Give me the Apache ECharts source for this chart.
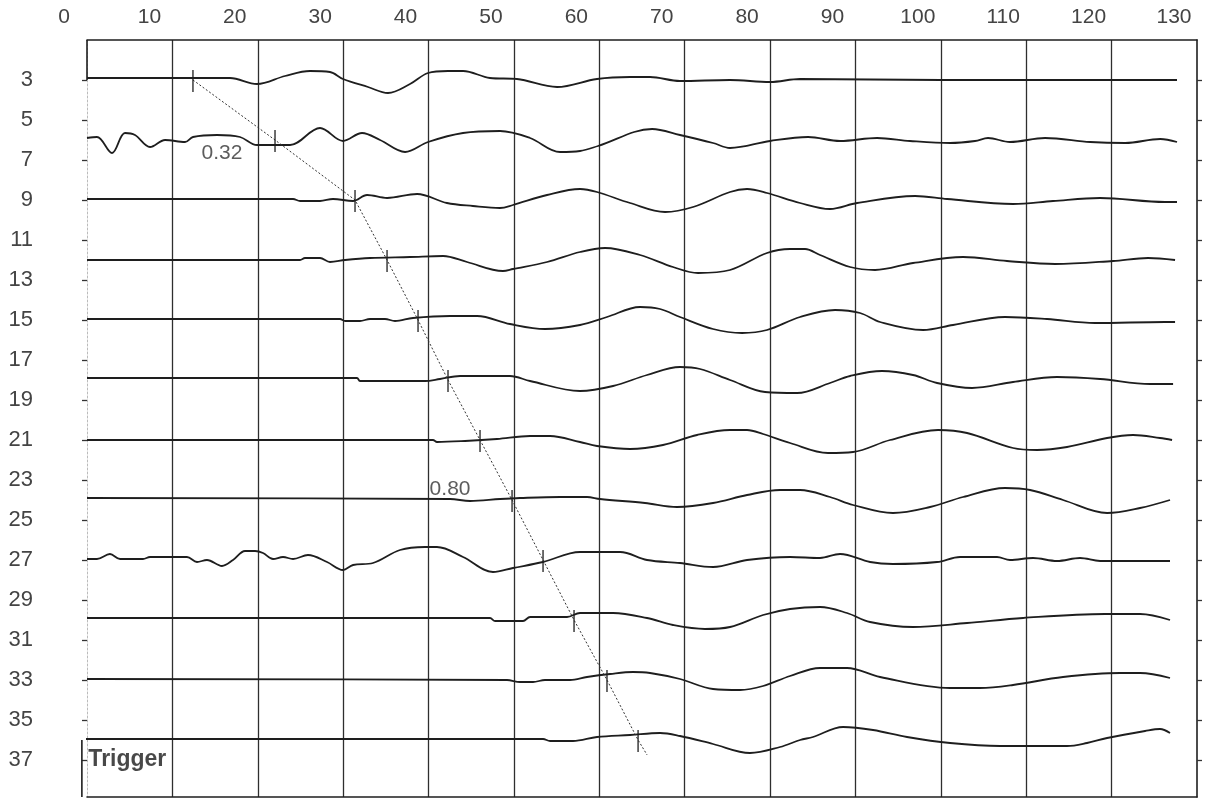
<!DOCTYPE html>
<html>
<head>
<meta charset="utf-8">
<script src="https://cdn.jsdelivr.net/npm/echarts@6/dist/echarts.min.js"></script>
<style>
  html, body { margin: 0; padding: 0; background: #fff; }
  #chart { width: 1211px; height: 800px; }
</style>
</head>
<body>
<div id="chart"></div>
<script>
// Axis ticks (time in ms along the top, trace offsets down the side)
const xTicks = [0, 10, 20, 30, 40, 50, 60, 70, 80, 90, 100, 110, 120, 130];
const yTicks = [3, 5, 7, 9, 11, 13, 15, 17, 19, 21, 23, 25, 27, 29, 31, 33, 35, 37];

// Baseline offset of each of the 12 traces
const baselines = [3, 6, 9, 12, 15, 18, 21, 24, 27, 30, 33, 36];

// Picked first-arrival time on each trace (ms)
const picks = [12.41, 22.02, 31.39, 35.14, 38.77, 42.28, 46.03, 49.78, 53.41, 57.04, 60.90, 64.54];
// Where the dotted pick line runs out below the last trace
const pickLineEnd = [65.6, 36.75];

// Slope annotations along the pick line
const slopeLabels = ['0.32', '0.80'];
const slopeLabelAt = [[15.81, 6.65], [42.52, 23.45]];

// Waveforms: [time ms, amplitude] (amplitude positive = upward)
const trace01 = [[0,0.1],[16.75,0.1],[19.91,-0.2],[23.19,0.2],[26.12,0.45],[28.46,0.4],[29.98,0.05],[32.91,-0.35],[35.25,-0.65],[37.83,-0.2],[39.94,0.35],[42.28,0.45],[44.04,0.45],[47.2,0.1],[50.36,0.05],[55.05,-0.35],[59.73,0.05],[63.6,0.15],[65.94,0.15],[69.45,-0.05],[75.3,0],[80.0,-0.1],[83.5,0.05],[100,0],[127.66,0]];
const trace02 = [[0,0.1],[1.17,0.15],[2.93,-0.65],[4.45,0.35],[5.62,0.25],[7.38,-0.35],[9.14,0],[11.48,-0.1],[12.41,0.15],[15.23,0.25],[17.92,0.15],[19.91,-0.25],[23.78,-0.25],[27.29,0.6],[29.98,-0.05],[32.21,0.35],[34.32,0],[37.25,-0.6],[39.94,-0.1],[44.04,0.35],[48.37,0.45],[51.89,0.1],[55.4,-0.6],[57.74,-0.55],[59.85,-0.3],[66.18,0.55],[69.45,0.25],[73.32,-0.15],[75.31,-0.4],[80.0,-0.05],[84.45,0.15],[88.2,-0.05],[92.53,0.1],[96.39,-0.05],[101.08,-0.15],[104.0,-0.05],[105.53,0.1],[108.1,-0.1],[112.2,0.1],[117.5,-0.1],[121.6,-0.15],[125.7,0.05],[127.66,-0.1]];
const trace03 = [[0,0.05],[24.13,0.05],[24.95,-0.05],[27.29,-0.05],[28.81,0.05],[31.15,-0.05],[32.8,0.25],[35.14,0.1],[38.65,0.3],[42.16,-0.15],[45.2,-0.3],[48.37,-0.4],[49.89,-0.25],[53.88,0.25],[57.74,0.55],[59.73,0.4],[63.6,-0.15],[67.7,-0.6],[70.98,-0.35],[75.31,0.4],[77.3,0.55],[79.64,0.35],[83.51,-0.15],[87.02,-0.45],[90.19,-0.15],[96.98,0.2],[100.73,0.05],[108.46,-0.2],[113.14,-0.05],[118.65,0.1],[126.26,-0.1],[127.66,-0.1]];
const trace04 = [[0,0],[24.95,0],[25.53,0.1],[27.29,0.1],[28.46,-0.1],[30.22,0],[33.15,0.1],[37.83,0.15],[41.7,0.2],[44.51,-0.1],[48.72,-0.55],[49.89,-0.45],[53.88,-0.1],[57.74,0.4],[60.67,0.6],[64.77,0.25],[68.63,-0.35],[71.56,-0.65],[75.31,-0.5],[79.64,0.35],[82.34,0.55],[84.1,0.55],[85.85,0.25],[89.37,-0.35],[92.29,-0.5],[96.74,-0.15],[102.6,0.15],[107.75,-0.05],[113.38,-0.2],[120.17,-0.05],[124.27,0.1],[127.43,0]];
const trace05 = [[0,0.05],[29.63,0.05],[30.22,-0.05],[31.97,-0.05],[33.15,0.05],[34.9,0.05],[36.07,-0.05],[38.18,0.1],[42.52,0.2],[45.68,0.2],[49.54,-0.2],[53.64,-0.45],[57.74,-0.25],[60.9,0.15],[64.77,0.65],[67.11,0.55],[69.45,0.15],[73.32,-0.45],[76.72,-0.65],[79.64,-0.5],[83.51,0.15],[87.61,0.5],[90.54,0.35],[92.88,-0.1],[97.92,-0.5],[101.43,-0.25],[107.52,0.15],[112.44,0.05],[118.06,-0.15],[126.26,-0.1],[127.43,-0.1]];
const trace06 = [[0,0.1],[31.62,0.1],[31.97,-0.05],[39.59,-0.05],[41.34,0.05],[43.69,0.2],[49.54,0.2],[51.89,-0.05],[57.74,-0.55],[61.61,-0.3],[65.59,0.25],[69.45,0.65],[71.8,0.55],[75.31,0],[79.41,-0.6],[83.16,-0.65],[87.02,-0.15],[89.37,0.2],[93.11,0.45],[96.74,0.25],[99.56,-0.15],[103.65,-0.4],[108.46,-0.1],[113.61,0.15],[118.65,0.05],[124.5,-0.2],[127.2,-0.2]];
const trace07 = [[0,0],[40.52,0],[40.99,-0.1],[44.27,-0.05],[48.02,0.05],[51.89,0.2],[54.23,0.2],[57.74,-0.1],[59.73,-0.3],[63.6,-0.45],[67.46,-0.25],[71.45,0.25],[75.31,0.5],[77.3,0.5],[79.18,0.3],[82.34,-0.15],[86.79,-0.65],[89.72,-0.6],[94.05,0],[99.67,0.5],[103.07,0.35],[108.46,-0.4],[111.27,-0.5],[114.78,-0.35],[119.47,0.1],[122.51,0.25],[125.67,0.1],[127.08,0]];
const trace08 = [[0,0.1],[42.52,0.05],[44.86,-0.05],[48.37,0.05],[50.71,0.1],[55.4,0.15],[58.56,0.15],[60.08,0.05],[65.35,-0.15],[69.1,-0.35],[73.32,-0.15],[77.3,0.25],[81.17,0.5],[83.51,0.5],[87.02,0.15],[89.72,-0.25],[94.4,-0.65],[98.74,-0.35],[102.6,0.15],[107.52,0.6],[110.45,0.5],[114.31,0],[119.47,-0.65],[123.33,-0.4],[126.84,0]];
const trace09 = [[0,0.05],[1.17,0.05],[2.69,0.3],[3.87,0.05],[6.56,0.05],[7.38,0.15],[11.71,0.15],[12.88,-0.1],[14.05,0],[15.81,-0.3],[17.1,0],[18.51,0.45],[19.68,0.45],[20.61,0.35],[21.79,0.05],[22.96,0.15],[24.13,0.05],[25.88,0.25],[28.11,-0.1],[29.98,-0.5],[31.16,-0.25],[33.5,-0.15],[36.66,0.5],[39.59,0.65],[40.99,0.65],[44.04,0.15],[47.55,-0.6],[49.89,-0.4],[53.41,-0.1],[57.74,0.4],[62.43,0.4],[65.59,0],[69.45,-0.15],[73.32,-0.35],[77.3,0],[82.34,0.15],[85.85,0.1],[88.19,0.3],[91.71,-0.1],[94.4,-0.2],[99.56,-0.1],[102.25,0.15],[106.58,0.15],[108.1,0],[110.8,0.1],[113.61,-0.05],[116.3,0.1],[118.65,-0.05],[126.84,-0.05]];
const trace10 = [[0,0.1],[47.2,0.1],[47.79,-0.05],[51.07,-0.05],[51.89,0.15],[56.22,0.15],[57.74,0.35],[61.61,0.35],[65.59,0.1],[68.63,-0.25],[72.38,-0.45],[75.31,-0.35],[79.18,0.25],[82.34,0.55],[85.85,0.65],[89.01,0.35],[91.71,-0.1],[96.74,-0.35],[103.07,-0.15],[109.63,0.1],[119.23,0.3],[123.33,0.3],[126.84,0]];
const trace11 = [[0,0.05],[49.19,0],[50.71,-0.1],[52.24,-0.1],[53.64,0],[56.57,0],[58.56,0.15],[61.26,0.3],[63.95,0.4],[65.94,0.35],[69.45,0.05],[73.32,-0.45],[76.48,-0.5],[79.18,-0.3],[82.34,0.2],[85.85,0.6],[89.01,0.6],[92.88,0.15],[101.08,-0.4],[104.59,-0.4],[108.46,-0.25],[114.31,0.15],[120.99,0.35],[123.33,0.35],[126.84,0.1]];
const trace12 = [[-0.6,0.05],[53.41,0.05],[54.23,-0.05],[56.92,-0.05],[59.73,0.15],[63.6,0.25],[67.11,0.35],[69.45,0.2],[73.32,-0.2],[77.65,-0.65],[81.17,-0.35],[83.51,0],[85.03,0.15],[88.55,0.65],[92.06,0.5],[96.04,0.15],[101.08,-0.15],[106.93,-0.3],[114.78,-0.3],[117.12,-0.15],[119.47,0.1],[123.92,0.45],[125.67,0.55],[126.84,0.35]];

const traces = [trace01, trace02, trace03, trace04, trace05, trace06,
                trace07, trace08, trace09, trace10, trace11, trace12];

const Y_MIN = 1, Y_MAX = 38.85;
const NUM_FONT = "'Liberation Sans', Arial, sans-serif";
const INK = '#1e1e1e';

const chart = echarts.init(document.getElementById('chart'), null, { renderer: 'canvas' });

const series = [];

// Seismic traces, each drawn about its own baseline (y axis is inverted)
traces.forEach((tr, i) => {
  series.push({
    type: 'line',
    name: 'trace' + (i + 1),
    data: tr.map(([t, a]) => [t, baselines[i] - a]),
    symbol: 'none',
    smooth: 0.35,
    clip: false,
    lineStyle: { color: INK, width: 1.8 },
    z: 5,
    silent: true
  });
});

// Left frame pieces: solid edge above the first trace, "Trigger" box edge below the last
const frameSegments = [
  [0, Y_MIN, 0, baselines[0]],
  [-0.6, baselines[11], -0.6, Y_MAX]
];
series.push({
  type: 'custom',
  data: frameSegments,
  clip: false,
  renderItem: (params, api) => {
    const p1 = api.coord([api.value(0), api.value(1)]);
    const p2 = api.coord([api.value(2), api.value(3)]);
    return {
      type: 'line',
      shape: { x1: p1[0], y1: p1[1], x2: p2[0], y2: p2[1] },
      style: { stroke: INK, lineWidth: 1.6 }
    };
  },
  z: 6,
  silent: true
});

// Dotted pick line through the arrival picks
series.push({
  type: 'line',
  data: picks.map((t, i) => [t, baselines[i]]).concat([pickLineEnd]),
  symbol: 'none',
  clip: false,
  lineStyle: { color: '#333', width: 1, type: [2, 2] },
  z: 6,
  silent: true
});

// Short vertical tick at every pick
series.push({
  type: 'custom',
  data: picks.map((t, i) => [t, baselines[i]]),
  clip: false,
  renderItem: (params, api) => {
    const t = api.value(0), b = api.value(1);
    const p1 = api.coord([t, b - 0.5]);
    const p2 = api.coord([t, b + 0.6]);
    return {
      type: 'line',
      shape: { x1: p1[0], y1: p1[1], x2: p2[0], y2: p2[1] },
      style: { stroke: INK, lineWidth: 1.3 }
    };
  },
  z: 7,
  silent: true
});

// Slope annotations
series.push({
  type: 'scatter',
  data: slopeLabels.map((s, i) => ({ name: s, value: slopeLabelAt[i] })),
  symbolSize: 1,
  itemStyle: { color: 'transparent' },
  label: {
    show: true, position: 'inside', formatter: p => p.name,
    fontFamily: NUM_FONT, fontSize: 21, color: '#333'
  },
  z: 8,
  silent: true
});

// "Trigger" caption in the box at the bottom left
series.push({
  type: 'scatter',
  data: [{ name: 'Trigger', value: [0.1, 37.0] }],
  symbolSize: 1,
  itemStyle: { color: 'transparent' },
  label: {
    show: true, position: 'right', distance: 0, formatter: p => p.name,
    fontFamily: "'Liberation Sans', Arial, sans-serif", fontWeight: 'bold',
    fontSize: 23, color: '#1a1a1a'
  },
  z: 8,
  silent: true
});

const option = {
  backgroundColor: '#ffffff',
  animation: false,
  grid: { left: 87, right: 14, top: 40, bottom: 3, containLabel: false },
  xAxis: [
    {
      type: 'value', position: 'top', min: 0, max: 130, interval: 10,
      axisLine: { show: true, onZero: false, lineStyle: { color: INK, width: 1.6 } },
      axisTick: { show: false },
      axisLabel: {
        show: true, customValues: xTicks, margin: 12,
        fontFamily: NUM_FONT, fontSize: 21, color: '#444',
        padding: [0, 46, 0, 0]
      },
      splitLine: {
        show: true, showMinLine: false, showMaxLine: false,
        lineStyle: { color: '#2e2e2e', width: 1.3 }
      }
    },
    {
      type: 'value', position: 'bottom', min: 0, max: 130,
      axisLine: { show: true, onZero: false, lineStyle: { color: INK, width: 1.6 } },
      axisTick: { show: false }, axisLabel: { show: false }, splitLine: { show: false }
    }
  ],
  yAxis: [
    {
      type: 'value', inverse: true, min: Y_MIN, max: Y_MAX, position: 'left', offset: 4,
      axisLine: { show: false },
      axisTick: { show: true, length: 5, customValues: yTicks, lineStyle: { color: '#333', width: 1.3 } },
      axisLabel: {
        show: true, customValues: yTicks, margin: 50, align: 'right',
        fontFamily: NUM_FONT, fontSize: 22, color: '#444'
      },
      splitLine: { show: false }
    },
    {
      type: 'value', inverse: true, min: Y_MIN, max: Y_MAX, position: 'left', offset: 0,
      axisLine: { show: true, onZero: false, lineStyle: { color: '#bbb', width: 1, type: [2, 2] } },
      axisTick: { show: false }, axisLabel: { show: false }, splitLine: { show: false }
    },
    {
      type: 'value', inverse: true, min: Y_MIN, max: Y_MAX, position: 'right',
      axisLine: { show: true, onZero: false, lineStyle: { color: INK, width: 1.6 } },
      axisTick: { show: true, length: 5, customValues: yTicks, lineStyle: { color: '#333', width: 1.3 } },
      axisLabel: { show: false }, splitLine: { show: false }
    }
  ],
  series: series
};

chart.setOption(option);
</script>
</body>
</html>
